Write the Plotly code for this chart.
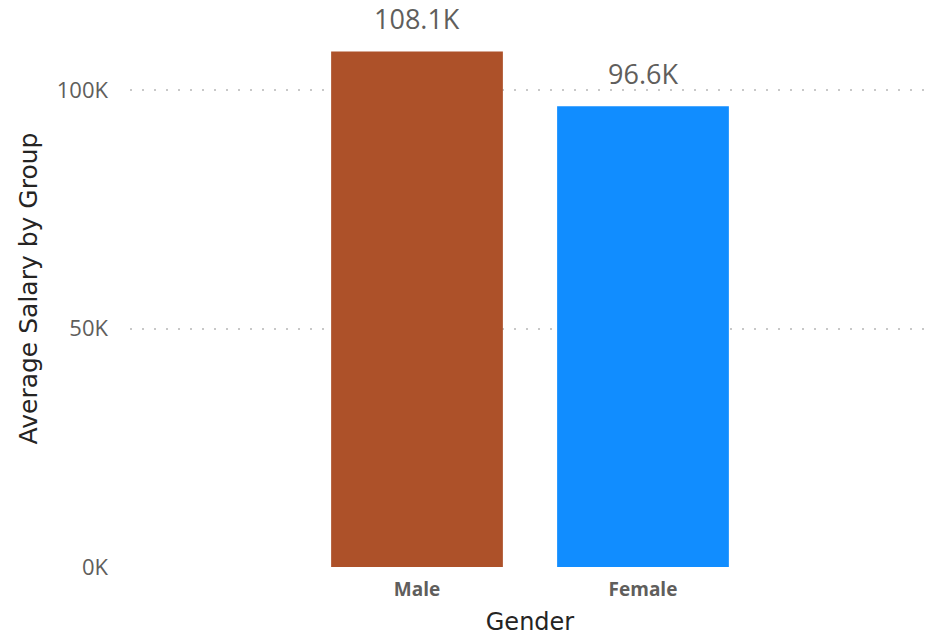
import plotly.graph_objects as go

categories = ["Male", "Female"]
values = [108100, 96600]
colors = ["#AD5129", "#118DFF"]
tick_vals = [0, 50000, 100000]
tick_text = ["0K", "50K", "100K"]

fig = go.Figure()
fig.add_trace(go.Bar(
    x=categories, y=values, marker_color=colors, width=0.76,
    marker_line_width=0, hoverinfo="skip",
))
for c, v in zip(categories, values):
    fig.add_annotation(
        x=c, y=v, text=f"{v/1000:.1f}K", showarrow=False, yshift=33,
        font=dict(family="Open Sans", size=27, color="#605E5C"),
    )

fig.update_layout(
    width=944, height=637,
    margin=dict(l=130, r=14, t=10, b=70, autoexpand=False),
    plot_bgcolor="white", paper_bgcolor="white",
    showlegend=False,
    xaxis=dict(
        range=[-1.27, 2.27], showgrid=False, showline=False, zeroline=False,
        tickfont=dict(family="Open Sans", size=19, color="#605E5C", weight="bold"),
        ticks="", ticklabelstandoff=9,
        title=dict(text="Gender", font=dict(family="DejaVu Sans", size=24, color="#252423"), standoff=12),
    ),
    yaxis=dict(
        range=[0, 116800], tickvals=tick_vals, ticktext=tick_text,
        showgrid=True, gridcolor="#C8C8C8", griddash="2px,10px", gridwidth=2,
        zeroline=False, showline=False, ticks="", ticklabelstandoff=21,
        tickfont=dict(family="Open Sans", size=22, color="#605E5C"),
        title=dict(text="Average Salary by Group", font=dict(family="DejaVu Sans", size=25, color="#252423"), standoff=12),
    ),
)
fig.write_html(
    "out.html",
    config={"displayModeBar": False},
    post_script="document.body.style.margin='0';document.body.style.overflow='hidden';",
)
